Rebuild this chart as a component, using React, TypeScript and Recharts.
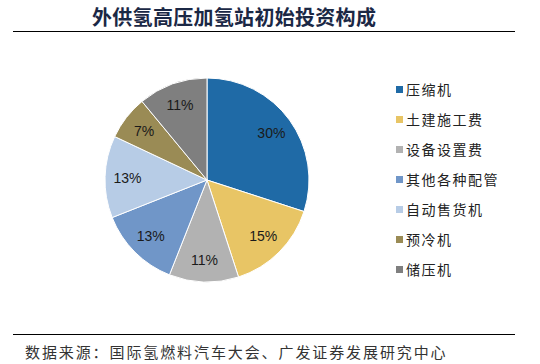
import React from 'react';
import { PieChart, Pie, Cell } from 'recharts';

const categories = ['压缩机', '土建施工费', '设备设置费', '其他各种配管', '自动售货机', '预冷机', '储压机'];
const shares = [30, 15, 11, 13, 13, 7, 11];
const colors = ['#1F6AA6', '#E8C565', '#B2B2B2', '#7096C8', '#B7CCE6', '#9A8B55', '#7F7F7F'];
const title = '外供氢高压加氢站初始投资构成';
const source = '数据来源：国际氢燃料汽车大会、广发证券发展研究中心';

const data = categories.map((name, i) => ({ name, value: shares[i], color: colors[i] }));

const RAD = Math.PI / 180;
const renderLabel = (props: any) => {
  const { cx, cy, midAngle, outerRadius, value } = props;
  const r = outerRadius * 0.78;
  const x = cx + r * Math.cos(-midAngle * RAD);
  const y = cy + r * Math.sin(-midAngle * RAD);
  return (
    <text x={x} y={y} fill="#1a1a1a" fontSize={14} fontFamily="'Liberation Sans', Arial, sans-serif" textAnchor="middle" dominantBaseline="central">
      {`${value}%`}
    </text>
  );
};

export default function App() {
  return (
    <div style={{ position: 'fixed', left: 0, top: 0, width: 540, height: 364, background: '#fff', overflow: 'hidden' }}>
      <div style={{ position: 'absolute', left: 92, top: 4, fontSize: 20, fontWeight: 700, color: '#1B2845', fontFamily: "'Noto Sans CJK SC', sans-serif", lineHeight: '26px', letterSpacing: 0.3 }}>
        {title}
      </div>
      <div style={{ position: 'absolute', left: 13, top: 31, width: 502, height: 1, background: '#000' }} />
      <PieChart width={540} height={364} margin={{ top: 0, left: 0, right: 0, bottom: 0 }} style={{ position: 'absolute', left: 0, top: 0 }}>
        <Pie
          data={data}
          dataKey="value"
          nameKey="name"
          cx={207}
          cy={180}
          outerRadius={102}
          startAngle={90}
          endAngle={-270}
          stroke="#fff"
          strokeWidth={1}
          label={renderLabel}
          labelLine={false}
          isAnimationActive={false}
        >
          {data.map((d, i) => (
            <Cell key={i} fill={d.color} />
          ))}
        </Pie>
      </PieChart>
      <div style={{ position: 'absolute', left: 396, top: 74, display: 'flex', flexDirection: 'column' }}>
        {data.map((d, i) => (
          <div key={i} style={{ display: 'flex', alignItems: 'center', height: 30 }}>
            <span style={{ width: 7, height: 7, background: d.color, display: 'inline-block', marginRight: 3 }} />
            <span style={{ fontSize: 14, letterSpacing: 1.5, color: '#222', fontFamily: "'Noto Sans CJK SC', sans-serif", lineHeight: '30px' }}>{d.name}</span>
          </div>
        ))}
      </div>
      <div style={{ position: 'absolute', left: 13, top: 334, width: 502, height: 1, background: '#000' }} />
      <div style={{ position: 'absolute', left: 25, top: 341, fontSize: 15, color: '#333', fontFamily: "'Noto Sans CJK SC', sans-serif", lineHeight: '22px', letterSpacing: 1.9 }}>
        {source}
      </div>
    </div>
  );
}
